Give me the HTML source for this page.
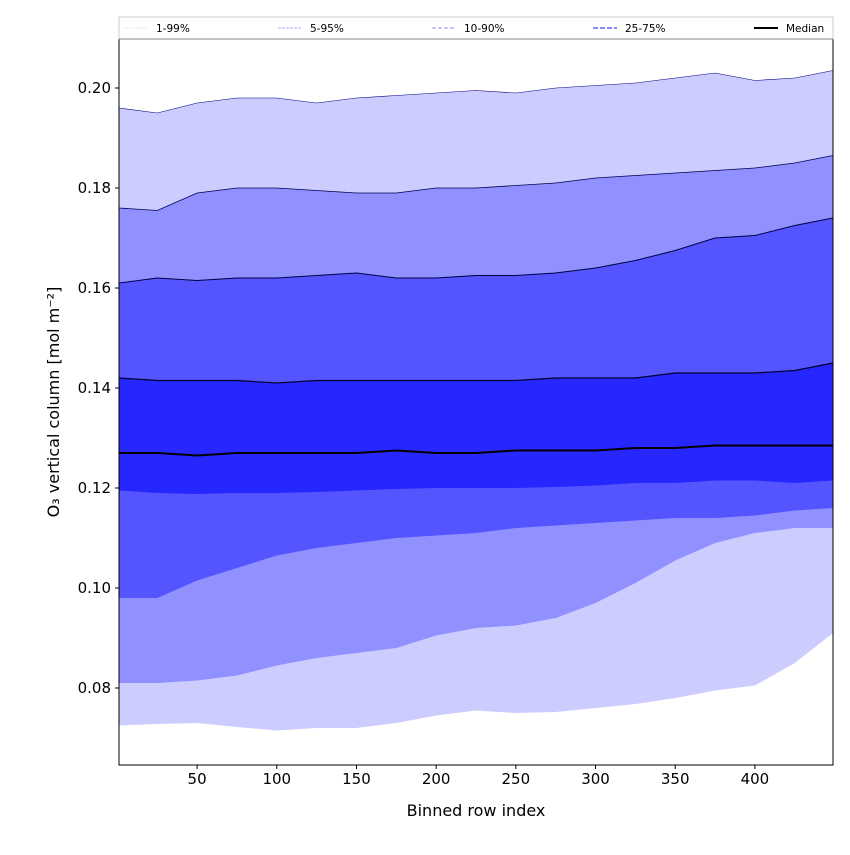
<!DOCTYPE html>
<html><head><meta charset="utf-8"><style>
body{margin:0;background:#fff;}
svg text{font-family:"DejaVu Sans","Liberation Sans",sans-serif;}
</style></head><body>
<svg id="chart" width="850" height="850">
<g id="bands"></g>
<g id="axes"></g>
</svg>
<script>
const xs=[1,25,50,75,100,125,150,175,200,225,250,275,300,325,350,375,400,425,449];
const p99=[0.196,0.195,0.197,0.198,0.198,0.197,0.198,0.1985,0.199,0.1995,0.199,0.2,0.2005,0.201,0.202,0.203,0.2015,0.202,0.2035];
const p95=[0.176,0.1755,0.179,0.18,0.18,0.1795,0.179,0.179,0.18,0.18,0.1805,0.181,0.182,0.1825,0.183,0.1835,0.184,0.185,0.1865];
const p90=[0.161,0.162,0.1615,0.162,0.162,0.1625,0.163,0.162,0.162,0.1625,0.1625,0.163,0.164,0.1655,0.1675,0.17,0.1705,0.1725,0.174];
const p75=[0.142,0.1415,0.1415,0.1415,0.141,0.1415,0.1415,0.1415,0.1415,0.1415,0.1415,0.142,0.142,0.142,0.143,0.143,0.143,0.1435,0.145];
const p50=[0.127,0.127,0.1265,0.127,0.127,0.127,0.127,0.1275,0.127,0.127,0.1275,0.1275,0.1275,0.128,0.128,0.1285,0.1285,0.1285,0.1285];
const p25=[0.1195,0.119,0.1188,0.119,0.119,0.1192,0.1195,0.1198,0.12,0.12,0.12,0.1202,0.1205,0.121,0.121,0.1215,0.1215,0.121,0.1215];
const p10=[0.098,0.098,0.1015,0.104,0.1065,0.108,0.109,0.11,0.1105,0.111,0.112,0.1125,0.113,0.1135,0.114,0.114,0.1145,0.1155,0.116];
const p5=[0.081,0.081,0.0815,0.0825,0.0845,0.086,0.087,0.088,0.0905,0.092,0.0925,0.094,0.097,0.101,0.1055,0.109,0.111,0.112,0.112];
const p1=[0.0725,0.0728,0.073,0.0722,0.0715,0.072,0.072,0.073,0.0745,0.0755,0.075,0.0752,0.076,0.0768,0.078,0.0795,0.0805,0.085,0.091];
const xTicks=[50,100,150,200,250,300,350,400];
const yTicks=[0.08,0.10,0.12,0.14,0.16,0.18,0.20];
const L=119,R=833,T=39,B=765;
const xMin=1,xMax=449,yMin=0.0646,yMax=0.2098;
const X=v=>L+(v-xMin)/(xMax-xMin)*(R-L);
const Y=v=>B-(v-yMin)/(yMax-yMin)*(B-T);
const NS="http://www.w3.org/2000/svg";
function mk(t,a,p){const e=document.createElementNS(NS,t);for(const k in a)e.setAttribute(k,a[k]);p.appendChild(e);return e;}
const bands=document.getElementById('bands'),axes=document.getElementById('axes'),svg=document.getElementById('chart');
mk('rect',{x:L,y:T,width:R-L,height:B-T,fill:'#fff'},bands);
function band(lo,hi,col,name){
  let d='M'+xs.map((x,i)=>X(x)+','+Y(hi[i])).join('L');
  for(let i=xs.length-1;i>=0;i--)d+='L'+X(xs[i])+','+Y(lo[i]);
  const p=mk('path',{d:d+'Z',fill:col},bands);
  
  
}
function line(v,w,col,name){
  const p=mk('path',{d:'M'+xs.map((x,i)=>X(x)+','+Y(v[i])).join('L'),fill:'none',stroke:col,'stroke-width':w},bands);
  
  
}
band(p1,p99,'#ccccff','band-1-99');
band(p5,p95,'#9090ff','band-5-95');
band(p10,p90,'#5555ff','band-10-90');
band(p25,p75,'#2626ff','band-25-75');
line(p99,0.6,'#000080','line-p99');line(p95,0.8,'#000050','line-p95');line(p90,1,'#000040','line-p90');line(p75,1.2,'#000030','line-p75');
line(p50,2,'#000','median-line');
mk('rect',{x:L,y:T,width:R-L,height:B-T,fill:'none',stroke:'#000','stroke-width':1},axes);
xTicks.forEach(t=>{const x=X(t);mk('line',{x1:x,x2:x,y1:B,y2:B+4,stroke:'#000'},axes);
 const tx=mk('text',{x:x,y:B+19,'text-anchor':'middle','font-size':15},axes);tx.textContent=t;
 });
yTicks.forEach(t=>{const y=Y(t);mk('line',{x1:L-4,x2:L,y1:y,y2:y,stroke:'#000'},axes);
 const tx=mk('text',{x:L-8,y:y+5,'text-anchor':'end','font-size':15},axes);tx.textContent=t.toFixed(2);
 });
const xt=mk('text',{x:(L+R)/2,y:816,'text-anchor':'middle','font-size':16},axes);xt.textContent='Binned row index';

const yt=mk('text',{x:0,y:0,'text-anchor':'middle','font-size':16,transform:'translate(59,402) rotate(-90)'},axes);yt.textContent='O₃ vertical column [mol m⁻²]';

const lg=mk('g',{},svg);

mk('rect',{x:L,y:17,width:R-L,height:22,fill:'#fff',stroke:'#ccc','stroke-width':1},lg);
mk('line',{x1:L,x2:R,y1:39,y2:39,stroke:'#888'},lg);
const entries=[['1-99%',124,'#ccccff',0.6,'2,1'],['5-95%',278,'#9090ff',0.8,'3,1'],['10-90%',432,'#8888ee',1,'4,2'],['25-75%',593,'#4444ff',1.2,'5,2'],['Median',754,'#000',2,'']];
entries.forEach(e=>{const g=mk('g',{},lg);
 
 mk('line',{x1:e[1],x2:e[1]+24,y1:28,y2:28,stroke:e[2],'stroke-width':e[3],'stroke-dasharray':e[4]},g);
 const t=mk('text',{x:e[1]+32,y:32,'font-size':10.5},g);t.textContent=e[0];});
</script>
</body></html>
